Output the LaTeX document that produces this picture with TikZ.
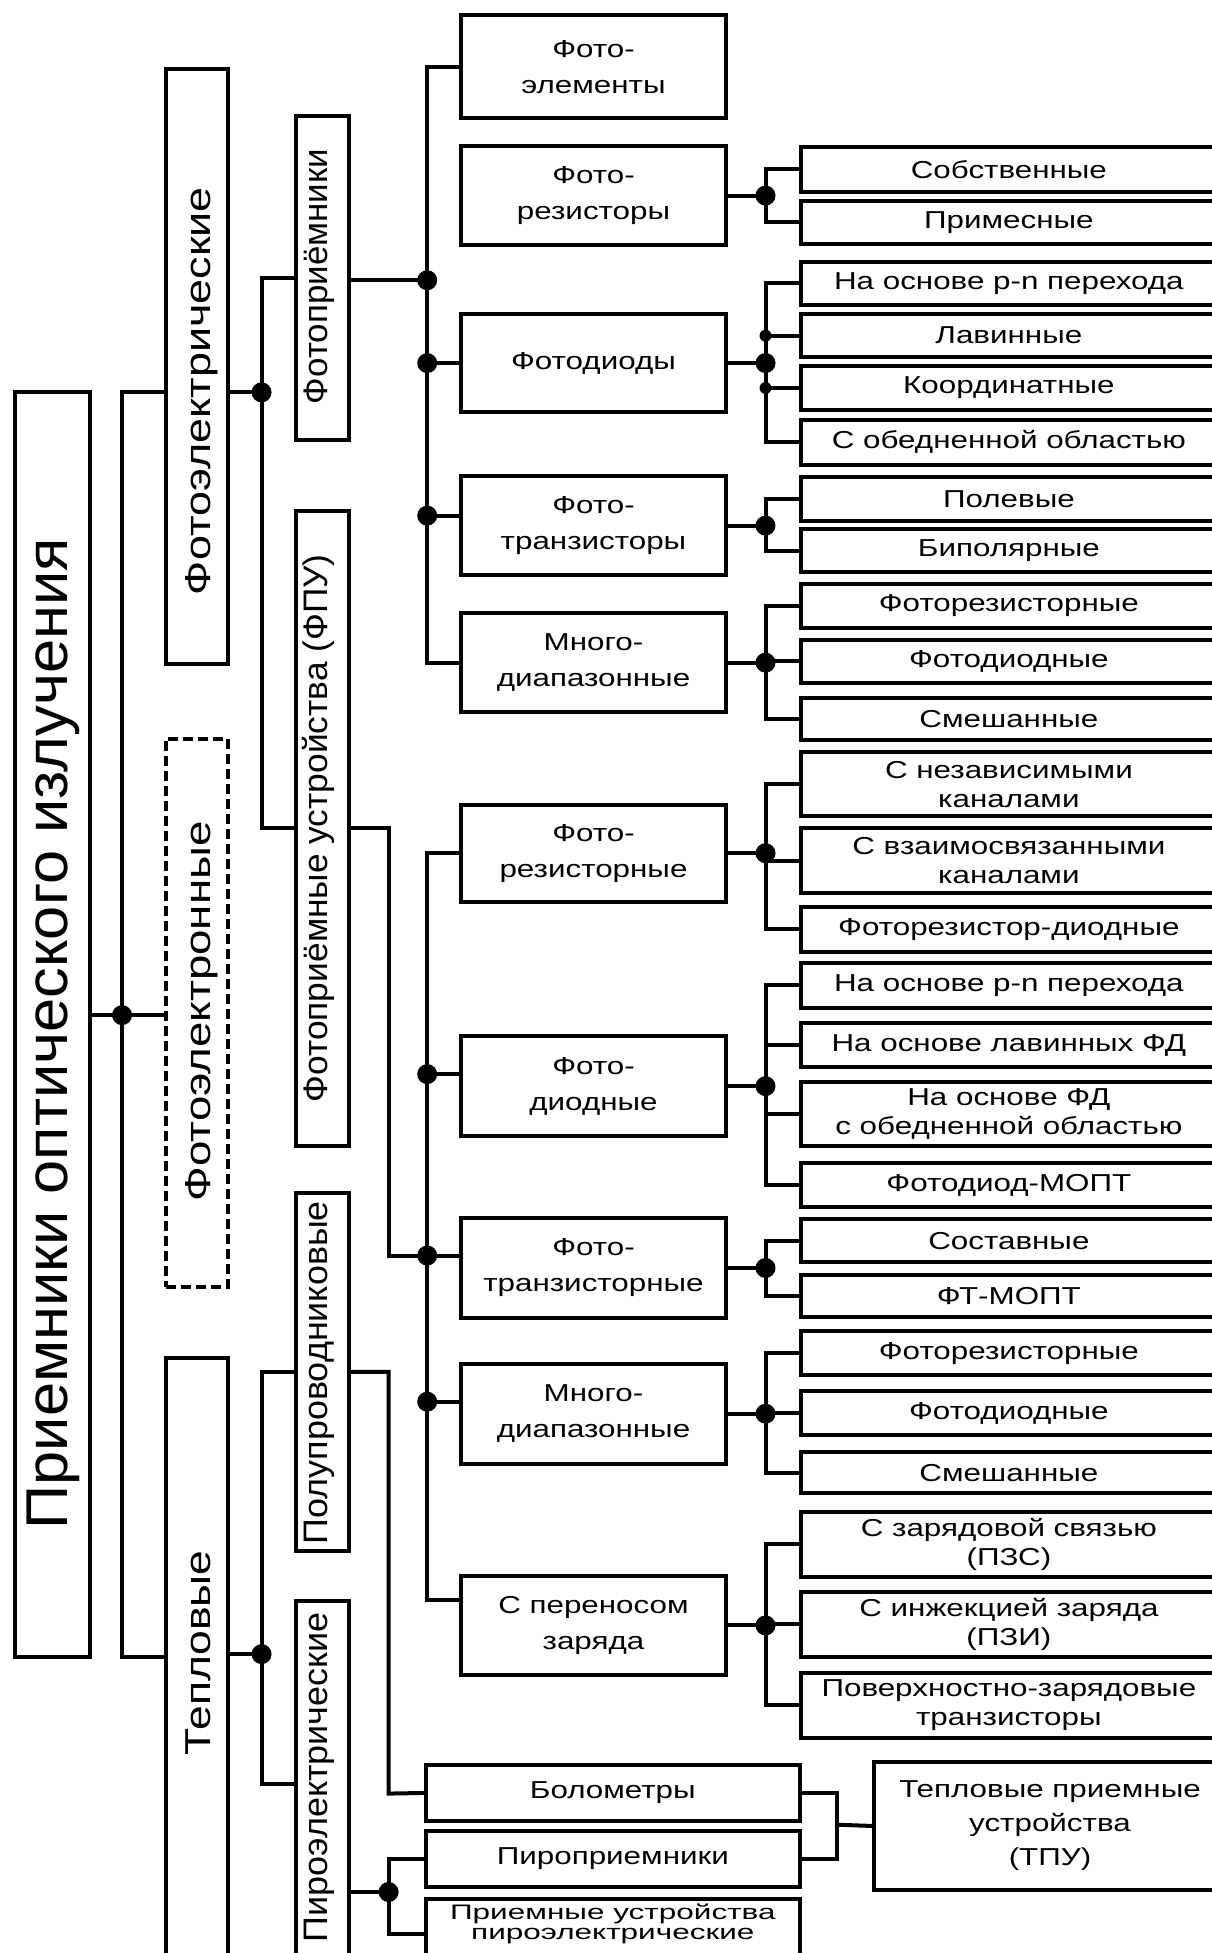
\documentclass[tikz,border=0pt]{standalone}
\usepackage{graphicx}
\usepackage{fontspec}
\setmainfont{Liberation Sans}
\newfontfamily\bxfont[FakeStretch=1.28]{Liberation Sans}
\newfontfamily\bxwfont[FakeStretch=1.5]{Liberation Sans}
\newcommand\vlab[3]{\resizebox{#2pt}{\height}{\fontsize{#1}{#1}\selectfont #3}}
\begin{document}
\begin{tikzpicture}[x=1.2456pt, y=-1.2456pt, line width=4pt,
  rc/.style n args={4}{at={({(#1+#3)/2},{(#2+#4)/2})},
    minimum width={(#3-#1)*1.2456pt}, minimum height={(#4-#2)*1.2456pt}},
  bx/.style={draw, line width=4pt, inner sep=0pt, align=center,
    font={\bxfont\fontsize{24.5}{29}\selectfont}},
  mid/.style={bx, font={\bxfont\fontsize{24.5}{36}\selectfont}},
  vbox/.style={draw, line width=4pt, inner sep=0pt},
  vtxt/.style={rotate=90, anchor=base, inner sep=0pt},
  ttxt/.style={inner sep=0pt, align=center},
]
\useasboundingbox (0,0) rectangle (973,1568);
\clip (0,0) rectangle (973,1568);

% ---------- vertical boxes ----------
\node[vbox, rc={12}{315}{72}{1330}] (main) {};
\node[vtxt] (t-main) at (54,830) {\vlab{59}{991}{Приемники оптического излучения}};

\node[vbox, rc={133}{55}{183}{533}] (fe) {};
\node[vtxt] (t-fe) at (169,314) {\vlab{36}{408}{Фотоэлектрические}};
\node[draw, line width=4pt, dash pattern=on 10pt off 5pt, inner sep=0pt, rc={133}{593}{183}{1033}] (fen) {};
\node[vtxt] (t-fen) at (169,812) {\vlab{36}{380}{Фотоэлектронные}};
\node[vbox, rc={133}{1090}{183}{1580}] (tep) {};
\node[vtxt] (t-tep) at (169,1327) {\vlab{36}{205}{Тепловые}};

\node[vbox, rc={238}{93}{280}{353}] (fp) {};
\node[vtxt] (t-fp) at (263,222) {\vlab{34}{255}{Фотоприёмники}};
\node[vbox, rc={238}{410}{280}{920}] (fpu) {};
\node[vtxt] (t-fpu) at (263,665) {\vlab{34}{548}{Фотоприёмные устройства (ФПУ)}};
\node[vbox, rc={238}{958}{280}{1245}] (pp) {};
\node[vtxt] (t-pp) at (263,1102) {\vlab{34}{343}{Полупроводниковые}};
\node[vbox, rc={238}{1285}{280}{1580}] (pe) {};
\node[vtxt] (t-pe) at (263,1427) {\vlab{34}{330}{Пироэлектрические}};

% ---------- middle boxes ----------
\node[mid, rc={370}{12}{583}{95}] (m1) {Фото-\\элементы};
\node[mid, rc={370}{117}{583}{197}] (m2) {Фото-\\резисторы};
\node[mid, rc={370}{252}{583}{331}] (m3) {Фотодиоды};
\node[mid, rc={370}{382}{583}{462}] (m4) {Фото-\\транзисторы};
\node[mid, rc={370}{492}{583}{572}] (m5) {Много-\\диапазонные};
\node[mid, rc={370}{646}{583}{724}] (n1) {Фото-\\резисторные};
\node[mid, rc={370}{832}{583}{912}] (n2) {Фото-\\диодные};
\node[mid, rc={370}{978}{583}{1058}] (n3) {Фото-\\транзисторные};
\node[mid, rc={370}{1095}{583}{1175}] (n4) {Много-\\диапазонные};
\node[mid, rc={370}{1265}{583}{1345}] (n5) {С переносом\\заряда};

% ---------- right boxes ----------
\node[bx, rc={643}{118}{977}{154}] (a1) {Собственные};
\node[bx, rc={643}{161}{977}{196}] (a2) {Примесные};
\node[bx, rc={643}{210}{977}{245}] (b1) {На основе p-n перехода};
\node[bx, rc={643}{252}{977}{287}] (b2) {Лавинные};
\node[bx, rc={643}{294}{977}{329}] (b3) {Координатные};
\node[bx, rc={643}{337}{977}{373}] (b4) {С обедненной областью};
\node[bx, rc={643}{383}{977}{418}] (c1) {Полевые};
\node[bx, rc={643}{425}{977}{459}] (c2) {Биполярные};
\node[bx, rc={643}{469}{977}{504}] (d1) {Фоторезисторные};
\node[bx, rc={643}{514}{977}{548}] (d2) {Фотодиодные};
\node[bx, rc={643}{560}{977}{594}] (d3) {Смешанные};
\node[bx, rc={643}{604}{977}{655}] (e1) {С независимыми\\каналами};
\node[bx, rc={643}{665}{977}{717}] (e2) {С взаимосвязанными\\каналами};
\node[bx, rc={643}{728}{977}{764}] (e3) {Фоторезистор-диодные};
\node[bx, rc={643}{773}{977}{809}] (f1) {На основе p-n перехода};
\node[bx, rc={643}{821}{977}{857}] (f2) {На основе лавинных ФД};
\node[bx, rc={643}{869}{977}{920}] (f3) {На основе ФД\\с обедненной областью};
\node[bx, rc={643}{934}{977}{969}] (f4) {Фотодиод-МОПТ};
\node[bx, rc={643}{979}{977}{1013}] (g1) {Составные};
\node[bx, rc={643}{1024}{977}{1057}] (g2) {ФТ-МОПТ};
\node[bx, rc={643}{1069}{977}{1104}] (h1) {Фоторезисторные};
\node[bx, rc={643}{1117}{977}{1152}] (h2) {Фотодиодные};
\node[bx, rc={643}{1166}{977}{1199}] (h3) {Смешанные};
\node[bx, rc={643}{1214}{977}{1266}] (i1) {С зарядовой связью\\(ПЗС)};
\node[bx, rc={643}{1278}{977}{1330}] (i2) {С инжекцией заряда\\(ПЗИ)};
\node[bx, rc={643}{1343}{977}{1395}] (i3) {Поверхностно-зарядовые\\транзисторы};

% ---------- bottom boxes ----------
\node[bx, rc={342}{1417}{642}{1462}] (bol) {Болометры};
\node[bx, rc={342}{1470}{642}{1515}] (piro) {Пироприемники};
\node[vbox, rc={342}{1525}{642}{1580}] (prm) {};
\node[ttxt, font={\bxwfont\fontsize{21}{20}\selectfont}] (t-prm) at (492,1545) {Приемные устройства\\пироэлектрические};
\node[bx, font={\bxfont\fontsize{24.5}{34}\selectfont}, rc={702}{1415}{984}{1517}] (tpu) {Тепловые приемные\\устройства\\(ТПУ)};

% ---------- main connectors ----------
\coordinate (V1) at (98,315);
\coordinate (V2) at (98,815);
\coordinate (V3) at (98,1330);
\draw (fe.west |- V1) -- (V1) -- (V3) -- (tep.west |- V3);
\draw (main.east |- V2) -- (fen.west |- V2);
\fill (V2) circle[radius=10pt];

\coordinate (J1) at (210,315);
\draw (fe.east |- J1) -- (J1);
\draw (fp.west) -| (J1) |- (fpu.west);
\fill (J1) circle[radius=10pt];

\coordinate (J2) at (210,1328);
\draw (tep.east |- J2) -- (J2);
\draw (pp.west) -| (J2) |- (pe.west);
\fill (J2) circle[radius=10pt];

% Фотоприёмники group
\coordinate (L1) at (343,225);
\coordinate (m4in) at ([yshift=10pt]m4.west);
\draw (fp.east |- L1) -- (L1);
\draw (m1.west) -| (L1) |- (m5.west);
\draw (L1 |- m3.west) -- (m3.west);
\draw (L1 |- m4in) -- (m4in);
\fill (L1) circle[radius=10pt];
\fill (L1 |- m3.west) circle[radius=10pt];
\fill (L1 |- m4in) circle[radius=10pt];

% ФПУ group
\coordinate (L2) at (343,1008);
\coordinate (B2) at (312,1008);
\coordinate (n2in) at ([yshift=12pt]n2.west);
\coordinate (n4in) at ([yshift=12pt]n4.west);
\coordinate (n5in) at ([yshift=25pt]n5.west);
\draw (fpu.east) -| (B2) -- (L2);
\draw (n1.west) -| (L2) |- (n5in);
\draw (L2 |- n2in) -- (n2in);
\draw (L2) -- (n3.west |- L2);
\draw (L2 |- n4in) -- (n4in);
\fill (L2) circle[radius=10pt];
\fill (L2 |- n2in) circle[radius=10pt];
\fill (L2 |- n4in) circle[radius=10pt];

% thermal
\coordinate (B3) at (312,1440);
\draw (pp.east) -| (B3) -- (bol.west);
\coordinate (J3) at (312,1519);
\draw (pe.east |- J3) -- (J3);
\draw (piro.west) -| (J3) |- (prm.west);
\fill (J3) circle[radius=10pt];
\coordinate (B4) at (672,1465);
\draw (bol.east) -| (B4);
\draw (piro.east) -| (B4);
\draw (B4) -- (tpu.west);

% ---------- right groups ----------
\path (m2.east) ++(30,0) coordinate (R1);
\draw (m2.east) -- (R1);
\draw (a1.west) -| (R1) |- (a2.west);
\fill (R1) circle[radius=10pt];

\path (m3.east) ++(30,0) coordinate (R2);
\draw (m3.east) -- (R2);
\draw (b1.west) -| (R2) |- (b4.west);
\draw (R2 |- b2.west) -- (b2.west);
\draw (R2 |- b3.west) -- (b3.west);
\fill (R2) circle[radius=10pt];
\fill (R2 |- b2.west) circle[radius=6pt];
\fill (R2 |- b3.west) circle[radius=6pt];

\path (m4.east) ++(30,0) coordinate (R3);
\draw (m4.east) -- (R3);
\draw (c1.west) -| (R3) |- (c2.west);
\fill (R3) circle[radius=10pt];

\path (m5.east) ++(30,0) coordinate (R4);
\draw (m5.east) -- (R4);
\draw (d1.west) -| (R4) |- (d3.west);
\draw (R4 |- d2.west) -- (d2.west);
\fill (R4) circle[radius=10pt];

\path (n1.east) ++(30,0) coordinate (R5);
\draw (n1.east) -- (R5);
\draw (e1.west) -| (R5) |- (e3.west);
\draw (R5 |- e2.west) -- (e2.west);
\fill (R5) circle[radius=10pt];

\path (n2.east) ++(30,0) coordinate (R6);
\draw (n2.east) -- (R6);
\draw (f1.west) -| (R6) |- (f4.west);
\draw (R6 |- f2.west) -- (f2.west);
\draw (R6 |- f3.west) -- (f3.west);
\fill (R6) circle[radius=10pt];

\path (n3.east) ++(30,0) coordinate (R7);
\draw (n3.east) -- (R7);
\draw (g1.west) -| (R7) |- (g2.west);
\fill (R7) circle[radius=10pt];

\path (n4.east) ++(30,0) coordinate (R8);
\draw (n4.east) -- (R8);
\draw (h1.west) -| (R8) |- (h3.west);
\draw (R8 |- h2.west) -- (h2.west);
\fill (R8) circle[radius=10pt];

\path (n5.east) ++(30,0) coordinate (R9);
\draw (n5.east) -- (R9);
\draw (i1.west) -| (R9) |- (i3.west);
\draw (R9 |- i2.west) -- (i2.west);
\fill (R9) circle[radius=10pt];
\end{tikzpicture}
\end{document}
